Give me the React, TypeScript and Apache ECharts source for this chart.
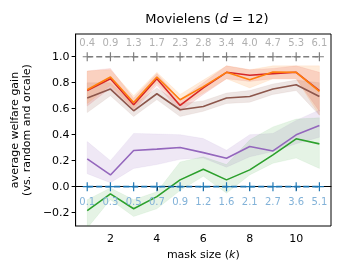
import React, { useEffect, useRef } from "react";
import * as echarts from "echarts";

const maskSizes = [1, 2, 3, 4, 5, 6, 7, 8, 9, 10, 11];

const orange = [0.746, 0.844, 0.648, 0.844, 0.669, 0.77, 0.88, 0.823, 0.883, 0.88, 0.733];
const orangeHi = [0.89, 0.9, 0.7, 0.88, 0.71, 0.82, 0.93, 0.9, 0.93, 0.93, 0.93];
const orangeLo = [0.64, 0.78, 0.6, 0.8, 0.62, 0.72, 0.83, 0.76, 0.83, 0.83, 0.55];

const red = [0.74, 0.83, 0.63, 0.83, 0.625, 0.76, 0.88, 0.857, 0.87, 0.88, 0.74];
const redHi = [0.89, 0.91, 0.68, 0.87, 0.67, 0.8, 0.93, 0.9, 0.91, 0.93, 0.88];
const redLo = [0.62, 0.76, 0.58, 0.78, 0.58, 0.71, 0.83, 0.81, 0.83, 0.83, 0.58];

const brown = [0.682, 0.751, 0.584, 0.715, 0.592, 0.617, 0.682, 0.694, 0.751, 0.785, 0.694];
const brownHi = [0.8, 0.8, 0.63, 0.76, 0.64, 0.66, 0.72, 0.74, 0.79, 0.82, 0.8];
const brownLo = [0.57, 0.7, 0.54, 0.67, 0.54, 0.58, 0.64, 0.65, 0.71, 0.74, 0.55];

const purple = [0.214, 0.09, 0.278, 0.289, 0.301, 0.262, 0.219, 0.309, 0.275, 0.399, 0.471];
const purpleHi = [0.347, 0.2, 0.41, 0.405, 0.4, 0.37, 0.28, 0.4, 0.41, 0.51, 0.59];
const purpleLo = [0.1, 0.03, 0.14, 0.17, 0.21, 0.22, 0.15, 0.23, 0.27, 0.33, 0.38];

const green = [-0.185, -0.056, -0.17, -0.077, 0.052, 0.134, 0.052, 0.129, 0.245, 0.368, 0.329];
const greenHi = [-0.1, -0.01, -0.1, -0.04, 0.19, 0.23, 0.17, 0.36, 0.46, 0.52, 0.53];
const greenLo = [-0.32, -0.1, -0.23, -0.17, -0.03, 0.08, -0.05, 0.09, 0.18, 0.22, 0.14];

const oracleLevel = 1.0;
const randomLevel = 0.0;
const oracleLabels = ["0.4", "0.9", "1.3", "1.7", "2.3", "2.8", "3.4", "4.0", "4.7", "5.3", "6.1"];
const randomLabels = ["0.1", "0.3", "0.5", "0.7", "0.9", "1.2", "1.6", "2.1", "2.7", "3.6", "5.1"];

const xTicks = [2, 4, 6, 8, 10];
const yTicks = [-0.2, 0, 0.2, 0.4, 0.6, 0.8, 1.0];

const FONT = "DejaVu Sans";
const PLUS = "path://M4.35,0h1.3v4.35h4.35v1.3h-4.35v4.35h-1.3v-4.35h-4.35v-1.3h4.35z";

function band(hi: number[], lo: number[], color: string, opacity: number) {
  return {
    type: "custom",
    data: [[maskSizes[0], hi[0]]],
    clip: true,
    silent: true,
    z: 1,
    renderItem: (_params: any, api: any) => {
      const pts: number[][] = [];
      maskSizes.forEach((x, i) => pts.push(api.coord([x, hi[i]])));
      for (let i = maskSizes.length - 1; i >= 0; i--) pts.push(api.coord([maskSizes[i], lo[i]]));
      return {
        type: "polygon",
        shape: { points: pts },
        style: { fill: color, opacity, stroke: color, lineWidth: 0.8, strokeOpacity: 0.6 },
      };
    },
  };
}

function line(values: number[], color: string, z = 3) {
  return {
    type: "line",
    data: maskSizes.map((x, i) => [x, values[i]]),
    showSymbol: false,
    symbol: "none",
    lineStyle: { color, width: 1.6 },
    itemStyle: { color },
    z,
  };
}

function refLine(level: number, color: string, labels: string[], labelColor: string, pos: string) {
  return {
    type: "line",
    data: maskSizes.map((x) => [x, level]),
    symbol: PLUS,
    symbolSize: 9,
    showSymbol: true,
    itemStyle: { color },
    lineStyle: { color, width: 1.6, type: [6, 3] },
    label: {
      show: true,
      position: pos,
      distance: 5,
      color: labelColor,
      fontFamily: FONT,
      fontSize: 10,
      formatter: (p: any) => labels[p.dataIndex],
    },
    z: 4,
  };
}

export default function App() {
  const ref = useRef<HTMLDivElement>(null);
  useEffect(() => {
    const chart = echarts.init(ref.current!, null, { renderer: "svg" });
    chart.setOption({
      animation: false,
      title: {
        text: "{n|Movielens (}{i|d}{n| = 12)}",
        left: 202,
        top: 7,
        textAlign: "center",
        textStyle: {
          fontWeight: "normal",
          rich: {
            n: { fontFamily: FONT, fontSize: 13, color: "#000", fontWeight: "normal" },
            i: { fontFamily: FONT, fontSize: 13, color: "#000", fontStyle: "italic", fontWeight: "normal" },
          },
        },
      },
      grid: {
        left: 73,
        right: 9,
        top: 34,
        bottom: 44,
        show: true,
        borderColor: "#000",
        borderWidth: 1,
        backgroundColor: "transparent",
      },
      xAxis: {
        type: "value",
        min: 0.5,
        max: 11.5,
        splitLine: { show: false },
        axisLine: { show: true, lineStyle: { color: "#000", width: 1 } },
        axisTick: { show: true, customValues: xTicks, length: 4, lineStyle: { color: "#000" } },
        axisLabel: {
          customValues: xTicks,
          color: "#000",
          fontFamily: FONT,
          fontSize: 11,
          margin: 7,
        },
        name: "{n|mask size (}{i|k}{n|)}",
        nameLocation: "middle",
        nameGap: 23,
        nameTextStyle: {
          rich: {
            n: { fontFamily: FONT, fontSize: 11, color: "#000" },
            i: { fontFamily: FONT, fontSize: 11, color: "#000", fontStyle: "italic" },
          },
        },
      },
      yAxis: {
        type: "value",
        min: -0.303,
        max: 1.175,
        splitLine: { show: false },
        axisLine: { show: true, lineStyle: { color: "#000", width: 1 } },
        axisTick: { show: true, customValues: yTicks, length: 4, lineStyle: { color: "#000" } },
        axisLabel: {
          customValues: yTicks,
          color: "#000",
          fontFamily: FONT,
          fontSize: 11,
          margin: 6,
          formatter: (v: number) => (v < 0 ? "\u2212" + Math.abs(v).toFixed(1) : v.toFixed(1)),
        },
        name: "average welfare gain\n(vs. random and orcale)",
        nameLocation: "middle",
        nameGap: 41,
        nameRotate: 90,
        nameTextStyle: { fontFamily: FONT, fontSize: 11, color: "#000", lineHeight: 12 },
      },
      series: [
        band(brownHi, brownLo, "#8c564b", 0.15),
        band(redHi, redLo, "#d62728", 0.15),
        band(orangeHi, orangeLo, "#ff7f0e", 0.15),
        band(purpleHi, purpleLo, "#9467bd", 0.15),
        band(greenHi, greenLo, "#2ca02c", 0.12),
        line(brown, "#8c564b"),
        line(purple, "#9467bd"),
        line(green, "#2ca02c"),
        line(red, "#d62728"),
        line(orange, "#ff7f0e", 3.5),
        refLine(oracleLevel, "#7f7f7f", oracleLabels, "#b0b0b0", "top"),
        refLine(randomLevel, "#1f77b4", randomLabels, "#82b2d8", "bottom"),
      ],
    });
    return () => chart.dispose();
  }, []);
  return <div ref={ref} style={{ position: "fixed", left: 0, top: 0, width: 340, height: 270 }} />;
}
